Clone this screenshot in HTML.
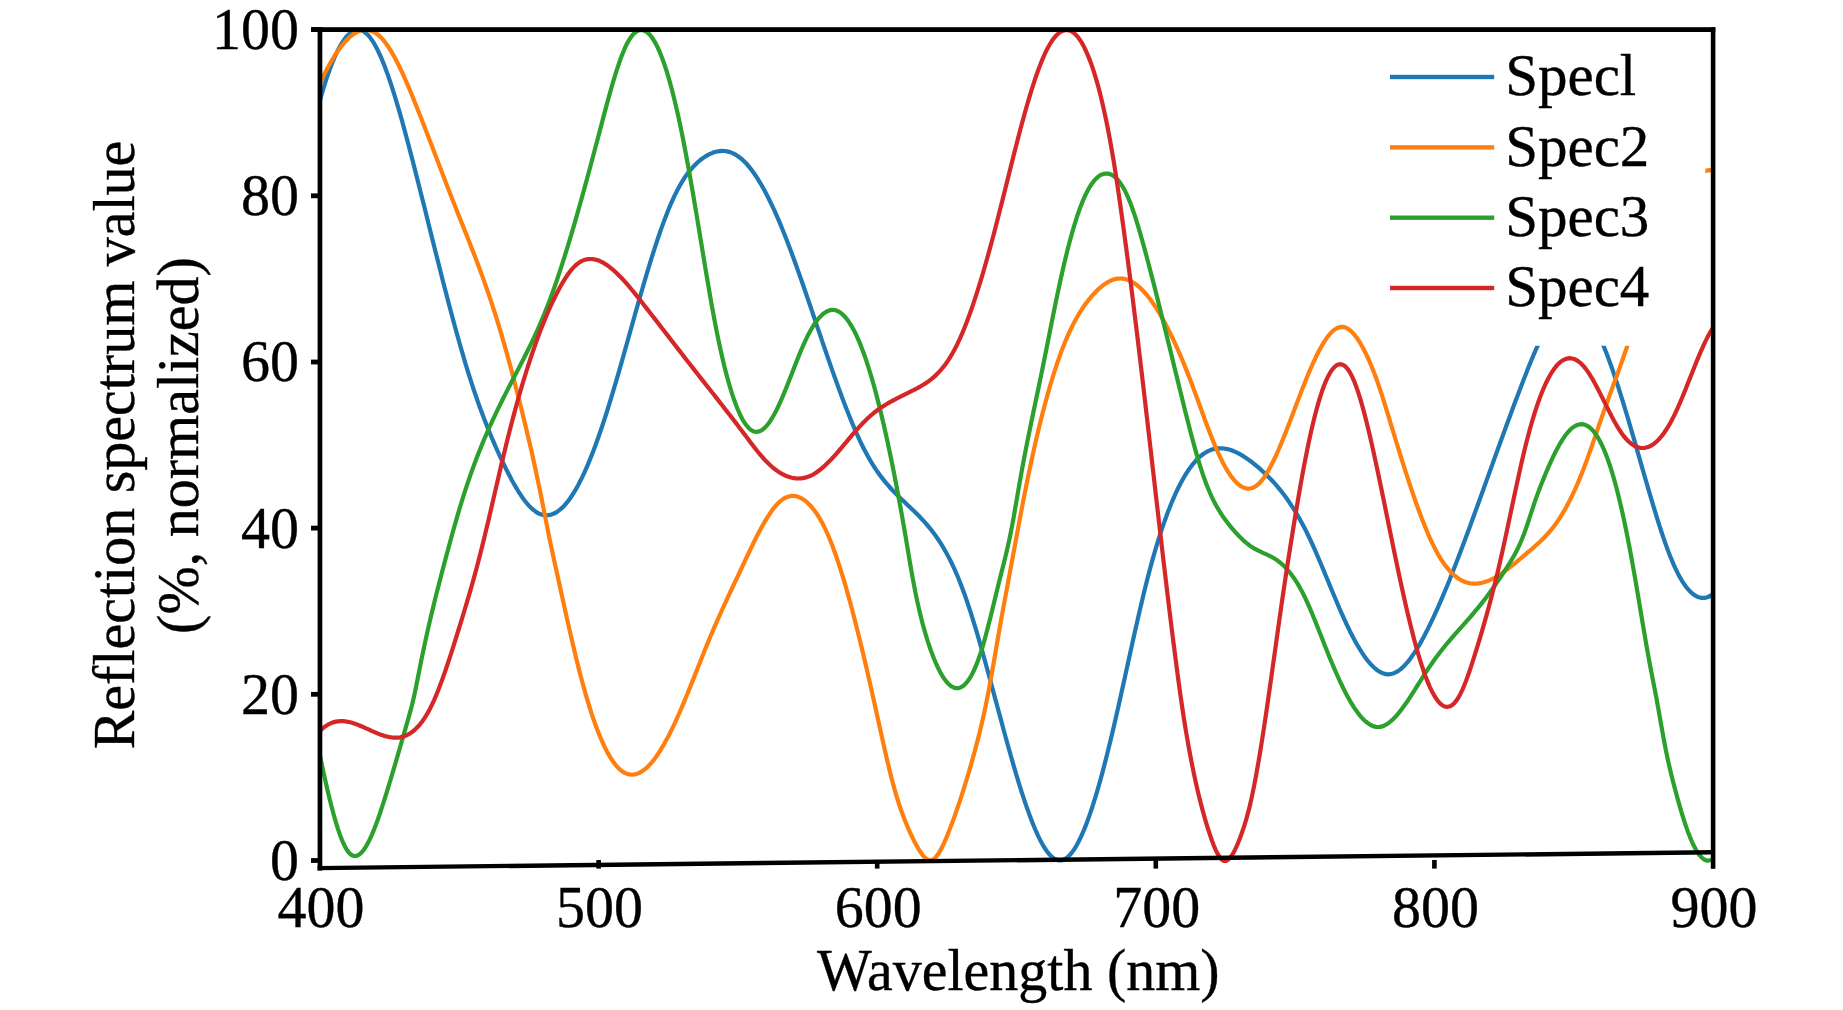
<!DOCTYPE html>
<html><head><meta charset="utf-8"><title>Reflection spectra</title>
<style>
html,body{margin:0;padding:0;background:#fff;}
body{width:1843px;height:1010px;overflow:hidden;}
svg{display:block;}
text{font-family:"Liberation Serif",serif;font-size:58px;fill:#000;stroke:#000;stroke-width:0.35px;}
</style></head><body>
<svg width="1843" height="1010" viewBox="0 0 1843 1010">
<rect x="0" y="0" width="1843" height="1010" fill="#fff"/>
<defs><clipPath id="plot"><rect x="320.0" y="27" width="1393.0" height="838"/></clipPath></defs>
<g clip-path="url(#plot)">
<path d="M320.0,100.2 322.0,93.2 324.0,86.6 326.0,80.2 328.0,74.3 330.0,68.7 332.0,63.5 334.0,58.6 336.0,54.1 338.0,49.9 340.0,46.2 342.0,42.8 344.0,39.8 346.0,37.2 348.0,35.0 350.0,33.2 352.0,31.7 354.0,30.7 356.0,30.1 358.0,29.9 360.0,30.1 362.0,30.7 364.0,31.7 366.0,33.2 368.0,35.1 370.0,37.4 372.0,40.2 374.0,43.3 376.0,46.9 378.0,50.8 380.0,55.1 382.0,59.7 384.0,64.6 386.0,69.9 388.0,75.4 390.0,81.2 392.0,87.3 394.0,93.6 396.0,100.1 398.0,106.8 400.0,113.7 402.0,120.8 404.0,128.1 406.0,135.5 408.0,143.0 410.0,150.6 412.0,158.3 414.0,166.1 416.0,173.9 418.0,181.8 420.0,189.7 422.0,197.7 424.0,205.6 426.0,213.6 428.0,221.7 430.0,229.7 432.0,237.7 434.0,245.7 436.0,253.7 438.0,261.6 440.0,269.5 442.0,277.4 444.0,285.2 446.0,292.9 448.0,300.6 450.0,308.2 452.0,315.7 454.0,323.1 456.0,330.5 458.0,337.7 460.0,344.8 462.0,351.7 464.0,358.6 466.0,365.3 468.0,371.8 470.0,378.2 472.0,384.4 474.0,390.5 476.0,396.3 478.0,402.1 480.0,407.7 482.0,413.1 484.0,418.4 486.0,423.6 488.0,428.6 490.0,433.5 492.0,438.3 494.0,442.9 496.0,447.5 498.0,452.0 500.0,456.3 502.0,460.6 504.0,464.7 506.0,468.8 508.0,472.8 510.0,476.6 512.0,480.4 514.0,484.0 516.0,487.4 518.0,490.8 520.0,493.9 522.0,496.9 524.0,499.7 526.0,502.2 528.0,504.6 530.0,506.8 532.0,508.7 534.0,510.4 536.0,511.9 538.0,513.1 540.0,514.0 542.0,514.7 544.0,515.1 546.0,515.3 548.0,515.2 550.0,514.9 552.0,514.3 554.0,513.5 556.0,512.5 558.0,511.2 560.0,509.6 562.0,507.9 564.0,505.9 566.0,503.6 568.0,501.2 570.0,498.5 572.0,495.5 574.0,492.4 576.0,489.0 578.0,485.4 580.0,481.6 582.0,477.6 584.0,473.4 586.0,468.9 588.0,464.3 590.0,459.4 592.0,454.4 594.0,449.2 596.0,443.8 598.0,438.3 600.0,432.5 602.0,426.7 604.0,420.6 606.0,414.5 608.0,408.1 610.0,401.7 612.0,395.1 614.0,388.4 616.0,381.6 618.0,374.8 620.0,367.8 622.0,360.8 624.0,353.7 626.0,346.6 628.0,339.5 630.0,332.3 632.0,325.2 634.0,318.0 636.0,310.9 638.0,303.9 640.0,296.9 642.0,290.0 644.0,283.1 646.0,276.3 648.0,269.6 650.0,263.1 652.0,256.6 654.0,250.3 656.0,244.2 658.0,238.1 660.0,232.3 662.0,226.6 664.0,221.1 666.0,215.9 668.0,210.8 670.0,205.9 672.0,201.3 674.0,196.9 676.0,192.8 678.0,188.9 680.0,185.3 682.0,181.9 684.0,178.7 686.0,175.7 688.0,173.0 690.0,170.4 692.0,168.1 694.0,165.9 696.0,163.9 698.0,162.0 700.0,160.3 702.0,158.8 704.0,157.4 706.0,156.1 708.0,154.9 710.0,153.9 712.0,153.1 714.0,152.3 716.0,151.8 718.0,151.3 720.0,151.1 722.0,150.9 724.0,151.0 726.0,151.2 728.0,151.6 730.0,152.1 732.0,152.9 734.0,153.8 736.0,154.9 738.0,156.2 740.0,157.7 742.0,159.3 744.0,161.2 746.0,163.2 748.0,165.5 750.0,167.9 752.0,170.5 754.0,173.3 756.0,176.2 758.0,179.3 760.0,182.6 762.0,186.0 764.0,189.6 766.0,193.3 768.0,197.2 770.0,201.2 772.0,205.4 774.0,209.7 776.0,214.2 778.0,218.7 780.0,223.4 782.0,228.3 784.0,233.2 786.0,238.3 788.0,243.5 790.0,248.7 792.0,254.1 794.0,259.5 796.0,265.0 798.0,270.6 800.0,276.3 802.0,282.0 804.0,287.7 806.0,293.5 808.0,299.4 810.0,305.2 812.0,311.1 814.0,317.0 816.0,322.9 818.0,328.8 820.0,334.7 822.0,340.6 824.0,346.5 826.0,352.3 828.0,358.1 830.0,363.9 832.0,369.6 834.0,375.2 836.0,380.8 838.0,386.4 840.0,391.8 842.0,397.2 844.0,402.5 846.0,407.7 848.0,412.8 850.0,417.8 852.0,422.6 854.0,427.4 856.0,432.0 858.0,436.4 860.0,440.8 862.0,445.0 864.0,449.0 866.0,452.8 868.0,456.5 870.0,460.0 872.0,463.4 874.0,466.5 876.0,469.6 878.0,472.5 880.0,475.3 882.0,477.9 884.0,480.4 886.0,482.9 888.0,485.2 890.0,487.5 892.0,489.7 894.0,491.8 896.0,493.8 898.0,495.8 900.0,497.8 902.0,499.7 904.0,501.6 906.0,503.5 908.0,505.4 910.0,507.3 912.0,509.2 914.0,511.1 916.0,513.1 918.0,515.1 920.0,517.1 922.0,519.3 924.0,521.4 926.0,523.7 928.0,526.0 930.0,528.4 932.0,530.9 934.0,533.6 936.0,536.3 938.0,539.2 940.0,542.2 942.0,545.4 944.0,548.8 946.0,552.3 948.0,555.9 950.0,559.8 952.0,563.8 954.0,568.1 956.0,572.6 958.0,577.3 960.0,582.2 962.0,587.4 964.0,592.8 966.0,598.4 968.0,604.3 970.0,610.4 972.0,616.6 974.0,623.1 976.0,629.7 978.0,636.4 980.0,643.3 982.0,650.4 984.0,657.5 986.0,664.7 988.0,672.0 990.0,679.3 992.0,686.7 994.0,694.1 996.0,701.6 998.0,709.0 1000.0,716.4 1002.0,723.8 1004.0,731.2 1006.0,738.5 1008.0,745.7 1010.0,752.8 1012.0,759.9 1014.0,766.8 1016.0,773.6 1018.0,780.3 1020.0,786.8 1022.0,793.1 1024.0,799.2 1026.0,805.1 1028.0,810.8 1030.0,816.3 1032.0,821.5 1034.0,826.5 1036.0,831.2 1038.0,835.6 1040.0,839.7 1042.0,843.5 1044.0,846.9 1046.0,850.0 1048.0,852.7 1050.0,855.0 1052.0,857.0 1054.0,858.5 1056.0,859.6 1058.0,860.3 1060.0,860.5 1062.0,860.3 1064.0,859.6 1066.0,858.4 1068.0,856.8 1070.0,854.8 1072.0,852.4 1074.0,849.6 1076.0,846.4 1078.0,842.8 1080.0,838.8 1082.0,834.5 1084.0,829.9 1086.0,824.9 1088.0,819.5 1090.0,813.9 1092.0,808.0 1094.0,801.7 1096.0,795.2 1098.0,788.4 1100.0,781.4 1102.0,774.1 1104.0,766.5 1106.0,758.8 1108.0,750.8 1110.0,742.6 1112.0,734.3 1114.0,725.7 1116.0,717.0 1118.0,708.2 1120.0,699.3 1122.0,690.3 1124.0,681.2 1126.0,672.1 1128.0,663.0 1130.0,653.9 1132.0,644.8 1134.0,635.8 1136.0,626.9 1138.0,618.1 1140.0,609.4 1142.0,600.9 1144.0,592.5 1146.0,584.4 1148.0,576.6 1150.0,569.0 1152.0,561.6 1154.0,554.5 1156.0,547.7 1158.0,541.1 1160.0,534.8 1162.0,528.7 1164.0,522.8 1166.0,517.2 1168.0,511.8 1170.0,506.7 1172.0,501.8 1174.0,497.1 1176.0,492.7 1178.0,488.5 1180.0,484.5 1182.0,480.8 1184.0,477.2 1186.0,473.9 1188.0,470.8 1190.0,467.9 1192.0,465.2 1194.0,462.8 1196.0,460.5 1198.0,458.5 1200.0,456.6 1202.0,455.0 1204.0,453.5 1206.0,452.3 1208.0,451.2 1210.0,450.3 1212.0,449.6 1214.0,449.0 1216.0,448.6 1218.0,448.4 1220.0,448.3 1222.0,448.3 1224.0,448.5 1226.0,448.8 1228.0,449.2 1230.0,449.8 1232.0,450.5 1234.0,451.3 1236.0,452.2 1238.0,453.1 1240.0,454.2 1242.0,455.4 1244.0,456.6 1246.0,458.0 1248.0,459.4 1250.0,460.8 1252.0,462.3 1254.0,463.9 1256.0,465.5 1258.0,467.2 1260.0,468.9 1262.0,470.7 1264.0,472.5 1266.0,474.4 1268.0,476.4 1270.0,478.4 1272.0,480.5 1274.0,482.7 1276.0,484.9 1278.0,487.3 1280.0,489.7 1282.0,492.2 1284.0,494.8 1286.0,497.5 1288.0,500.3 1290.0,503.3 1292.0,506.3 1294.0,509.4 1296.0,512.7 1298.0,516.1 1300.0,519.6 1302.0,523.2 1304.0,527.0 1306.0,530.9 1308.0,535.0 1310.0,539.2 1312.0,543.5 1314.0,547.9 1316.0,552.5 1318.0,557.1 1320.0,561.8 1322.0,566.5 1324.0,571.4 1326.0,576.2 1328.0,581.0 1330.0,585.9 1332.0,590.7 1334.0,595.5 1336.0,600.3 1338.0,605.0 1340.0,609.7 1342.0,614.2 1344.0,618.7 1346.0,623.0 1348.0,627.2 1350.0,631.3 1352.0,635.3 1354.0,639.1 1356.0,642.7 1358.0,646.2 1360.0,649.5 1362.0,652.7 1364.0,655.7 1366.0,658.4 1368.0,661.0 1370.0,663.4 1372.0,665.6 1374.0,667.5 1376.0,669.2 1378.0,670.7 1380.0,671.9 1382.0,672.9 1384.0,673.6 1386.0,674.1 1388.0,674.3 1390.0,674.2 1392.0,673.8 1394.0,673.2 1396.0,672.2 1398.0,671.1 1400.0,669.6 1402.0,668.0 1404.0,666.1 1406.0,663.9 1408.0,661.6 1410.0,659.1 1412.0,656.3 1414.0,653.4 1416.0,650.3 1418.0,647.1 1420.0,643.6 1422.0,640.1 1424.0,636.4 1426.0,632.5 1428.0,628.6 1430.0,624.5 1432.0,620.4 1434.0,616.1 1436.0,611.7 1438.0,607.3 1440.0,602.7 1442.0,598.1 1444.0,593.3 1446.0,588.5 1448.0,583.7 1450.0,578.7 1452.0,573.7 1454.0,568.6 1456.0,563.5 1458.0,558.3 1460.0,553.1 1462.0,547.8 1464.0,542.5 1466.0,537.1 1468.0,531.7 1470.0,526.3 1472.0,520.8 1474.0,515.3 1476.0,509.8 1478.0,504.3 1480.0,498.7 1482.0,493.2 1484.0,487.6 1486.0,482.1 1488.0,476.5 1490.0,470.9 1492.0,465.4 1494.0,459.8 1496.0,454.3 1498.0,448.8 1500.0,443.2 1502.0,437.7 1504.0,432.2 1506.0,426.8 1508.0,421.3 1510.0,415.9 1512.0,410.5 1514.0,405.1 1516.0,399.8 1518.0,394.5 1520.0,389.2 1522.0,384.0 1524.0,378.8 1526.0,373.7 1528.0,368.6 1530.0,363.6 1532.0,358.8 1534.0,354.0 1536.0,349.4 1538.0,344.9 1540.0,340.6 1542.0,336.5 1544.0,332.5 1546.0,328.8 1548.0,325.3 1550.0,322.0 1552.0,319.0 1554.0,316.3 1556.0,313.8 1558.0,311.6 1560.0,309.8 1562.0,308.2 1564.0,307.0 1566.0,306.0 1568.0,305.3 1570.0,305.0 1572.0,305.0 1574.0,305.2 1576.0,305.8 1578.0,306.7 1580.0,308.0 1582.0,309.5 1584.0,311.4 1586.0,313.6 1588.0,316.1 1590.0,318.9 1592.0,322.1 1594.0,325.5 1596.0,329.3 1598.0,333.3 1600.0,337.6 1602.0,342.2 1604.0,347.0 1606.0,352.0 1608.0,357.2 1610.0,362.7 1612.0,368.3 1614.0,374.1 1616.0,380.1 1618.0,386.2 1620.0,392.5 1622.0,398.9 1624.0,405.4 1626.0,412.0 1628.0,418.7 1630.0,425.5 1632.0,432.3 1634.0,439.2 1636.0,446.2 1638.0,453.2 1640.0,460.1 1642.0,467.1 1644.0,474.1 1646.0,481.0 1648.0,487.9 1650.0,494.7 1652.0,501.4 1654.0,508.1 1656.0,514.7 1658.0,521.1 1660.0,527.4 1662.0,533.5 1664.0,539.4 1666.0,545.1 1668.0,550.6 1670.0,555.8 1672.0,560.7 1674.0,565.3 1676.0,569.6 1678.0,573.7 1680.0,577.4 1682.0,580.8 1684.0,583.9 1686.0,586.7 1688.0,589.2 1690.0,591.4 1692.0,593.2 1694.0,594.8 1696.0,596.1 1698.0,597.0 1700.0,597.6 1702.0,597.9 1704.0,597.9 1706.0,597.6 1708.0,597.0 1710.0,596.0 1712.0,594.7 1713.0,594.0" fill="none" stroke="#1f77b4" stroke-width="4.2" stroke-linejoin="round"/>
<path d="M320.0,83.1 322.0,78.9 324.0,74.9 326.0,71.0 328.0,67.2 330.0,63.6 332.0,60.2 334.0,56.9 336.0,53.7 338.0,50.8 340.0,48.0 342.0,45.4 344.0,43.0 346.0,40.7 348.0,38.7 350.0,36.8 352.0,35.2 354.0,33.8 356.0,32.6 358.0,31.6 360.0,30.8 362.0,30.2 364.0,29.9 366.0,29.9 368.0,30.1 370.0,30.5 372.0,31.2 374.0,32.1 376.0,33.3 378.0,34.8 380.0,36.6 382.0,38.6 384.0,40.9 386.0,43.5 388.0,46.3 390.0,49.4 392.0,52.7 394.0,56.3 396.0,60.0 398.0,63.9 400.0,68.0 402.0,72.2 404.0,76.6 406.0,81.1 408.0,85.7 410.0,90.5 412.0,95.3 414.0,100.2 416.0,105.2 418.0,110.2 420.0,115.3 422.0,120.4 424.0,125.5 426.0,130.7 428.0,135.9 430.0,141.1 432.0,146.3 434.0,151.6 436.0,156.8 438.0,162.1 440.0,167.3 442.0,172.6 444.0,177.8 446.0,183.0 448.0,188.2 450.0,193.3 452.0,198.4 454.0,203.5 456.0,208.6 458.0,213.6 460.0,218.6 462.0,223.6 464.0,228.6 466.0,233.6 468.0,238.7 470.0,243.8 472.0,248.9 474.0,254.1 476.0,259.3 478.0,264.6 480.0,269.9 482.0,275.4 484.0,280.9 486.0,286.6 488.0,292.3 490.0,298.2 492.0,304.2 494.0,310.3 496.0,316.6 498.0,323.0 500.0,329.6 502.0,336.3 504.0,343.3 506.0,350.3 508.0,357.5 510.0,364.9 512.0,372.4 514.0,380.0 516.0,387.7 518.0,395.6 520.0,403.5 522.0,411.5 524.0,419.6 526.0,427.9 528.0,436.3 530.0,444.8 532.0,453.5 534.0,462.5 536.0,471.7 538.0,481.1 540.0,490.7 542.0,500.7 544.0,510.9 546.0,521.1 548.0,531.2 550.0,541.0 552.0,550.4 554.0,559.7 556.0,568.8 558.0,577.9 560.0,587.0 562.0,596.1 564.0,605.2 566.0,614.2 568.0,623.1 570.0,631.9 572.0,640.6 574.0,649.1 576.0,657.4 578.0,665.5 580.0,673.4 582.0,681.0 584.0,688.3 586.0,695.4 588.0,702.1 590.0,708.6 592.0,714.8 594.0,720.7 596.0,726.2 598.0,731.5 600.0,736.5 602.0,741.2 604.0,745.6 606.0,749.7 608.0,753.4 610.0,756.9 612.0,760.0 614.0,762.9 616.0,765.4 618.0,767.7 620.0,769.6 622.0,771.2 624.0,772.5 626.0,773.4 628.0,774.1 630.0,774.5 632.0,774.7 634.0,774.5 636.0,774.1 638.0,773.4 640.0,772.5 642.0,771.3 644.0,769.9 646.0,768.3 648.0,766.4 650.0,764.3 652.0,762.1 654.0,759.6 656.0,756.9 658.0,754.0 660.0,750.9 662.0,747.6 664.0,744.2 666.0,740.6 668.0,736.9 670.0,733.0 672.0,728.9 674.0,724.8 676.0,720.5 678.0,716.0 680.0,711.5 682.0,706.8 684.0,702.1 686.0,697.3 688.0,692.4 690.0,687.4 692.0,682.4 694.0,677.4 696.0,672.4 698.0,667.3 700.0,662.3 702.0,657.2 704.0,652.2 706.0,647.3 708.0,642.4 710.0,637.5 712.0,632.8 714.0,628.1 716.0,623.5 718.0,618.9 720.0,614.5 722.0,610.0 724.0,605.7 726.0,601.3 728.0,597.0 730.0,592.7 732.0,588.5 734.0,584.2 736.0,580.0 738.0,575.8 740.0,571.5 742.0,567.2 744.0,563.0 746.0,558.7 748.0,554.5 750.0,550.2 752.0,546.1 754.0,542.0 756.0,537.9 758.0,534.0 760.0,530.2 762.0,526.5 764.0,523.0 766.0,519.6 768.0,516.3 770.0,513.3 772.0,510.5 774.0,507.8 776.0,505.5 778.0,503.3 780.0,501.4 782.0,499.9 784.0,498.5 786.0,497.5 788.0,496.7 790.0,496.2 792.0,495.9 794.0,496.0 796.0,496.2 798.0,496.8 800.0,497.6 802.0,498.6 804.0,499.9 806.0,501.4 808.0,503.2 810.0,505.2 812.0,507.5 814.0,510.0 816.0,512.7 818.0,515.7 820.0,519.0 822.0,522.6 824.0,526.4 826.0,530.6 828.0,535.0 830.0,539.8 832.0,544.8 834.0,550.2 836.0,555.8 838.0,561.6 840.0,567.7 842.0,574.1 844.0,580.7 846.0,587.5 848.0,594.6 850.0,601.8 852.0,609.3 854.0,616.9 856.0,624.7 858.0,632.7 860.0,640.8 862.0,649.0 864.0,657.4 866.0,666.0 868.0,674.6 870.0,683.4 872.0,692.2 874.0,701.2 876.0,710.2 878.0,719.2 880.0,728.4 882.0,737.4 884.0,746.4 886.0,755.2 888.0,763.8 890.0,772.1 892.0,780.0 894.0,787.4 896.0,794.4 898.0,800.9 900.0,807.0 902.0,812.7 904.0,818.0 906.0,823.0 908.0,827.8 910.0,832.3 912.0,836.6 914.0,840.7 916.0,844.5 918.0,848.0 920.0,851.3 922.0,854.2 924.0,856.7 926.0,858.6 928.0,859.9 930.0,860.4 932.0,860.0 934.0,858.9 936.0,856.9 938.0,854.3 940.0,851.1 942.0,847.3 944.0,843.2 946.0,838.6 948.0,833.7 950.0,828.6 952.0,823.3 954.0,817.9 956.0,812.3 958.0,806.5 960.0,800.6 962.0,794.4 964.0,788.1 966.0,781.6 968.0,775.0 970.0,768.1 972.0,761.1 974.0,753.9 976.0,746.5 978.0,738.9 980.0,731.0 982.0,722.6 984.0,713.7 986.0,704.3 988.0,694.2 990.0,683.5 992.0,672.3 994.0,660.8 996.0,649.2 998.0,637.6 1000.0,626.1 1002.0,615.0 1004.0,604.1 1006.0,593.4 1008.0,582.7 1010.0,571.9 1012.0,561.1 1014.0,550.2 1016.0,539.4 1018.0,528.6 1020.0,517.9 1022.0,507.3 1024.0,497.0 1026.0,486.9 1028.0,477.0 1030.0,467.5 1032.0,458.2 1034.0,449.1 1036.0,440.3 1038.0,431.8 1040.0,423.6 1042.0,415.6 1044.0,407.8 1046.0,400.3 1048.0,393.1 1050.0,386.2 1052.0,379.5 1054.0,373.0 1056.0,366.8 1058.0,360.9 1060.0,355.3 1062.0,349.8 1064.0,344.7 1066.0,339.8 1068.0,335.2 1070.0,330.8 1072.0,326.6 1074.0,322.7 1076.0,319.0 1078.0,315.5 1080.0,312.2 1082.0,309.1 1084.0,306.1 1086.0,303.3 1088.0,300.7 1090.0,298.3 1092.0,295.9 1094.0,293.7 1096.0,291.6 1098.0,289.6 1100.0,287.8 1102.0,286.2 1104.0,284.6 1106.0,283.3 1108.0,282.1 1110.0,281.0 1112.0,280.1 1114.0,279.4 1116.0,278.9 1118.0,278.6 1120.0,278.5 1122.0,278.5 1124.0,278.8 1126.0,279.2 1128.0,279.9 1130.0,280.7 1132.0,281.8 1134.0,283.0 1136.0,284.4 1138.0,286.0 1140.0,287.7 1142.0,289.7 1144.0,291.8 1146.0,294.0 1148.0,296.5 1150.0,299.0 1152.0,301.8 1154.0,304.7 1156.0,307.7 1158.0,310.9 1160.0,314.2 1162.0,317.7 1164.0,321.3 1166.0,325.0 1168.0,328.9 1170.0,332.9 1172.0,337.0 1174.0,341.2 1176.0,345.6 1178.0,350.0 1180.0,354.6 1182.0,359.3 1184.0,364.1 1186.0,369.1 1188.0,374.1 1190.0,379.3 1192.0,384.5 1194.0,389.9 1196.0,395.3 1198.0,400.8 1200.0,406.3 1202.0,411.8 1204.0,417.2 1206.0,422.7 1208.0,428.0 1210.0,433.2 1212.0,438.3 1214.0,443.2 1216.0,448.0 1218.0,452.5 1220.0,456.8 1222.0,460.9 1224.0,464.7 1226.0,468.3 1228.0,471.6 1230.0,474.7 1232.0,477.4 1234.0,479.9 1236.0,482.1 1238.0,484.0 1240.0,485.6 1242.0,486.8 1244.0,487.7 1246.0,488.3 1248.0,488.6 1250.0,488.5 1252.0,488.0 1254.0,487.2 1256.0,486.0 1258.0,484.4 1260.0,482.5 1262.0,480.2 1264.0,477.5 1266.0,474.5 1268.0,471.2 1270.0,467.6 1272.0,463.8 1274.0,459.8 1276.0,455.5 1278.0,451.0 1280.0,446.4 1282.0,441.6 1284.0,436.6 1286.0,431.6 1288.0,426.4 1290.0,421.2 1292.0,416.0 1294.0,410.7 1296.0,405.4 1298.0,400.2 1300.0,394.9 1302.0,389.8 1304.0,384.7 1306.0,379.7 1308.0,374.8 1310.0,370.1 1312.0,365.5 1314.0,361.1 1316.0,356.8 1318.0,352.8 1320.0,349.0 1322.0,345.4 1324.0,342.1 1326.0,339.1 1328.0,336.3 1330.0,333.9 1332.0,331.8 1334.0,330.0 1336.0,328.7 1338.0,327.7 1340.0,327.1 1342.0,326.9 1344.0,327.1 1346.0,327.8 1348.0,328.8 1350.0,330.3 1352.0,332.1 1354.0,334.2 1356.0,336.7 1358.0,339.6 1360.0,342.7 1362.0,346.2 1364.0,349.9 1366.0,353.9 1368.0,358.2 1370.0,362.7 1372.0,367.5 1374.0,372.5 1376.0,377.8 1378.0,383.4 1380.0,389.3 1382.0,395.4 1384.0,401.7 1386.0,408.1 1388.0,414.7 1390.0,421.3 1392.0,427.9 1394.0,434.4 1396.0,441.0 1398.0,447.5 1400.0,453.9 1402.0,460.3 1404.0,466.7 1406.0,472.9 1408.0,479.1 1410.0,485.2 1412.0,491.1 1414.0,497.0 1416.0,502.7 1418.0,508.3 1420.0,513.7 1422.0,519.0 1424.0,524.1 1426.0,529.0 1428.0,533.8 1430.0,538.3 1432.0,542.6 1434.0,546.7 1436.0,550.6 1438.0,554.2 1440.0,557.6 1442.0,560.8 1444.0,563.7 1446.0,566.4 1448.0,568.9 1450.0,571.2 1452.0,573.2 1454.0,575.1 1456.0,576.7 1458.0,578.2 1460.0,579.5 1462.0,580.6 1464.0,581.5 1466.0,582.2 1468.0,582.8 1470.0,583.3 1472.0,583.5 1474.0,583.7 1476.0,583.6 1478.0,583.5 1480.0,583.2 1482.0,582.8 1484.0,582.3 1486.0,581.6 1488.0,580.9 1490.0,580.1 1492.0,579.1 1494.0,578.1 1496.0,577.0 1498.0,575.8 1500.0,574.5 1502.0,573.2 1504.0,571.8 1506.0,570.3 1508.0,568.8 1510.0,567.2 1512.0,565.6 1514.0,564.0 1516.0,562.4 1518.0,560.7 1520.0,559.0 1522.0,557.3 1524.0,555.6 1526.0,553.9 1528.0,552.2 1530.0,550.5 1532.0,548.8 1534.0,547.1 1536.0,545.3 1538.0,543.5 1540.0,541.7 1542.0,539.8 1544.0,537.8 1546.0,535.7 1548.0,533.5 1550.0,531.2 1552.0,528.8 1554.0,526.2 1556.0,523.5 1558.0,520.6 1560.0,517.6 1562.0,514.4 1564.0,511.0 1566.0,507.5 1568.0,503.8 1570.0,500.0 1572.0,495.9 1574.0,491.7 1576.0,487.3 1578.0,482.7 1580.0,477.9 1582.0,472.9 1584.0,467.7 1586.0,462.4 1588.0,456.9 1590.0,451.3 1592.0,445.6 1594.0,439.9 1596.0,434.1 1598.0,428.2 1600.0,422.4 1602.0,416.6 1604.0,410.9 1606.0,405.2 1608.0,399.7 1610.0,394.2 1612.0,388.8 1614.0,383.3 1616.0,377.9 1618.0,372.5 1620.0,366.9 1622.0,361.3 1624.0,355.5 1626.0,349.7 1628.0,343.8 1630.0,337.9 1632.0,331.8 1634.0,325.8 1636.0,319.7 1638.0,313.6 1640.0,307.6 1642.0,301.5 1644.0,295.4 1646.0,289.4 1648.0,283.3 1650.0,277.4 1652.0,271.5 1654.0,265.7 1656.0,259.9 1658.0,254.3 1660.0,248.8 1662.0,243.3 1664.0,238.0 1666.0,232.8 1668.0,227.8 1670.0,222.9 1672.0,218.2 1674.0,213.6 1676.0,209.2 1678.0,205.0 1680.0,201.0 1682.0,197.2 1684.0,193.6 1686.0,190.2 1688.0,187.1 1690.0,184.2 1692.0,181.6 1694.0,179.2 1696.0,177.1 1698.0,175.3 1700.0,173.7 1702.0,172.4 1704.0,171.4 1706.0,170.7 1708.0,170.3 1710.0,170.2 1712.0,170.4 1713.0,170.6" fill="none" stroke="#ff7f0e" stroke-width="4.2" stroke-linejoin="round"/>
<path d="M320.0,756.0 322.0,765.4 324.0,774.6 326.0,783.5 328.0,792.2 330.0,800.4 332.0,808.3 334.0,815.7 336.0,822.7 338.0,829.1 340.0,834.9 342.0,840.1 344.0,844.6 346.0,848.4 348.0,851.5 350.0,853.8 352.0,855.3 354.0,856.0 356.0,856.0 358.0,855.3 360.0,853.9 362.0,852.0 364.0,849.5 366.0,846.4 368.0,842.9 370.0,838.9 372.0,834.4 374.0,829.6 376.0,824.4 378.0,819.0 380.0,813.2 382.0,807.2 384.0,801.0 386.0,794.6 388.0,788.1 390.0,781.5 392.0,774.8 394.0,768.1 396.0,761.3 398.0,754.4 400.0,747.5 402.0,740.6 404.0,733.6 406.0,726.7 408.0,719.7 410.0,712.7 412.0,705.1 414.0,696.6 416.0,687.1 418.0,677.0 420.0,666.8 422.0,656.9 424.0,647.4 426.0,638.1 428.0,629.1 430.0,620.4 432.0,611.9 434.0,603.7 436.0,595.6 438.0,587.7 440.0,579.9 442.0,572.2 444.0,564.6 446.0,557.1 448.0,549.7 450.0,542.3 452.0,535.0 454.0,527.8 456.0,520.8 458.0,513.9 460.0,507.2 462.0,500.6 464.0,494.2 466.0,488.1 468.0,482.1 470.0,476.3 472.0,470.6 474.0,465.1 476.0,459.8 478.0,454.6 480.0,449.5 482.0,444.6 484.0,439.8 486.0,435.1 488.0,430.5 490.0,426.0 492.0,421.6 494.0,417.3 496.0,413.1 498.0,408.9 500.0,404.8 502.0,400.8 504.0,396.8 506.0,392.9 508.0,388.9 510.0,385.1 512.0,381.2 514.0,377.3 516.0,373.5 518.0,369.6 520.0,365.8 522.0,361.9 524.0,358.0 526.0,354.0 528.0,350.0 530.0,345.9 532.0,341.8 534.0,337.6 536.0,333.2 538.0,328.8 540.0,324.3 542.0,319.6 544.0,314.8 546.0,309.9 548.0,304.8 550.0,299.5 552.0,294.1 554.0,288.5 556.0,282.7 558.0,276.9 560.0,270.8 562.0,264.7 564.0,258.4 566.0,252.0 568.0,245.5 570.0,238.9 572.0,232.2 574.0,225.3 576.0,218.4 578.0,211.4 580.0,204.3 582.0,197.1 584.0,189.9 586.0,182.6 588.0,175.2 590.0,167.8 592.0,160.3 594.0,152.8 596.0,145.2 598.0,137.7 600.0,130.1 602.0,122.5 604.0,114.9 606.0,107.4 608.0,100.0 610.0,92.8 612.0,85.7 614.0,78.9 616.0,72.4 618.0,66.3 620.0,60.5 622.0,55.1 624.0,50.2 626.0,45.7 628.0,41.8 630.0,38.5 632.0,35.7 634.0,33.5 636.0,31.8 638.0,30.7 640.0,30.1 642.0,30.0 644.0,30.5 646.0,31.5 648.0,33.0 650.0,35.0 652.0,37.5 654.0,40.6 656.0,44.1 658.0,48.1 660.0,52.7 662.0,57.7 664.0,63.2 666.0,69.2 668.0,75.6 670.0,82.6 672.0,90.0 674.0,97.9 676.0,106.2 678.0,114.9 680.0,124.2 682.0,133.8 684.0,144.0 686.0,154.5 688.0,165.3 690.0,176.5 692.0,187.9 694.0,199.6 696.0,211.5 698.0,223.5 700.0,235.6 702.0,247.7 704.0,259.8 706.0,271.9 708.0,283.7 710.0,295.3 712.0,306.6 714.0,317.5 716.0,327.9 718.0,337.8 720.0,347.3 722.0,356.2 724.0,364.7 726.0,372.7 728.0,380.1 730.0,387.1 732.0,393.6 734.0,399.6 736.0,405.0 738.0,410.0 740.0,414.5 742.0,418.5 744.0,421.9 746.0,424.8 748.0,427.3 750.0,429.2 752.0,430.6 754.0,431.5 756.0,431.9 758.0,431.7 760.0,431.1 762.0,430.0 764.0,428.4 766.0,426.5 768.0,424.1 770.0,421.4 772.0,418.2 774.0,414.8 776.0,411.1 778.0,407.0 780.0,402.7 782.0,398.2 784.0,393.4 786.0,388.5 788.0,383.5 790.0,378.3 792.0,373.2 794.0,368.0 796.0,362.9 798.0,357.9 800.0,352.9 802.0,348.2 804.0,343.6 806.0,339.3 808.0,335.2 810.0,331.5 812.0,328.0 814.0,324.7 816.0,321.8 818.0,319.2 820.0,316.9 822.0,314.9 824.0,313.2 826.0,311.9 828.0,310.9 830.0,310.2 832.0,309.9 834.0,310.0 836.0,310.4 838.0,311.2 840.0,312.4 842.0,313.9 844.0,315.8 846.0,318.0 848.0,320.6 850.0,323.6 852.0,326.9 854.0,330.5 856.0,334.5 858.0,338.9 860.0,343.6 862.0,348.7 864.0,354.1 866.0,359.8 868.0,365.9 870.0,372.3 872.0,379.0 874.0,386.0 876.0,393.4 878.0,401.1 880.0,409.1 882.0,417.4 884.0,425.9 886.0,434.8 888.0,444.0 890.0,453.5 892.0,463.2 894.0,473.2 896.0,483.5 898.0,494.0 900.0,504.8 902.0,515.9 904.0,527.3 906.0,538.9 908.0,550.9 910.0,562.8 912.0,574.4 914.0,585.2 916.0,595.3 918.0,604.6 920.0,613.3 922.0,621.3 924.0,628.8 926.0,635.7 928.0,642.1 930.0,648.0 932.0,653.5 934.0,658.7 936.0,663.4 938.0,667.8 940.0,671.7 942.0,675.3 944.0,678.4 946.0,681.1 948.0,683.4 950.0,685.3 952.0,686.7 954.0,687.6 956.0,688.1 958.0,688.1 960.0,687.7 962.0,686.7 964.0,685.3 966.0,683.3 968.0,680.8 970.0,677.9 972.0,674.3 974.0,670.3 976.0,665.7 978.0,660.5 980.0,654.8 982.0,648.6 984.0,641.8 986.0,634.5 988.0,626.9 990.0,619.0 992.0,610.9 994.0,602.7 996.0,594.5 998.0,586.3 1000.0,578.2 1002.0,570.3 1004.0,562.4 1006.0,554.3 1008.0,545.8 1010.0,536.5 1012.0,526.3 1014.0,515.3 1016.0,503.7 1018.0,492.0 1020.0,480.6 1022.0,469.5 1024.0,458.8 1026.0,448.4 1028.0,438.4 1030.0,428.5 1032.0,418.8 1034.0,409.2 1036.0,399.7 1038.0,390.2 1040.0,380.6 1042.0,370.9 1044.0,361.0 1046.0,351.1 1048.0,341.0 1050.0,331.0 1052.0,320.9 1054.0,311.0 1056.0,301.2 1058.0,291.6 1060.0,282.3 1062.0,273.3 1064.0,264.5 1066.0,256.2 1068.0,248.1 1070.0,240.5 1072.0,233.2 1074.0,226.3 1076.0,219.8 1078.0,213.7 1080.0,208.1 1082.0,202.9 1084.0,198.2 1086.0,193.9 1088.0,190.0 1090.0,186.5 1092.0,183.5 1094.0,180.9 1096.0,178.7 1098.0,176.9 1100.0,175.4 1102.0,174.4 1104.0,173.8 1106.0,173.5 1108.0,173.6 1110.0,174.1 1112.0,175.0 1114.0,176.3 1116.0,177.9 1118.0,180.1 1120.0,182.6 1122.0,185.6 1124.0,189.0 1126.0,192.9 1128.0,197.3 1130.0,202.1 1132.0,207.5 1134.0,213.2 1136.0,219.4 1138.0,225.9 1140.0,232.6 1142.0,239.7 1144.0,246.9 1146.0,254.3 1148.0,261.8 1150.0,269.5 1152.0,277.2 1154.0,284.9 1156.0,292.8 1158.0,300.7 1160.0,308.7 1162.0,316.7 1164.0,324.7 1166.0,332.8 1168.0,341.0 1170.0,349.1 1172.0,357.3 1174.0,365.5 1176.0,373.6 1178.0,381.8 1180.0,389.9 1182.0,398.1 1184.0,406.2 1186.0,414.2 1188.0,422.1 1190.0,429.9 1192.0,437.5 1194.0,444.9 1196.0,452.1 1198.0,459.0 1200.0,465.6 1202.0,471.9 1204.0,477.8 1206.0,483.2 1208.0,488.3 1210.0,493.0 1212.0,497.4 1214.0,501.5 1216.0,505.2 1218.0,508.7 1220.0,512.0 1222.0,515.1 1224.0,518.0 1226.0,520.7 1228.0,523.3 1230.0,525.9 1232.0,528.3 1234.0,530.6 1236.0,532.9 1238.0,535.0 1240.0,537.1 1242.0,539.0 1244.0,540.9 1246.0,542.6 1248.0,544.2 1250.0,545.7 1252.0,547.1 1254.0,548.3 1256.0,549.4 1258.0,550.5 1260.0,551.4 1262.0,552.4 1264.0,553.3 1266.0,554.2 1268.0,555.1 1270.0,556.1 1272.0,557.1 1274.0,558.3 1276.0,559.5 1278.0,560.9 1280.0,562.5 1282.0,564.2 1284.0,566.1 1286.0,568.1 1288.0,570.3 1290.0,572.8 1292.0,575.4 1294.0,578.2 1296.0,581.2 1298.0,584.4 1300.0,587.9 1302.0,591.6 1304.0,595.5 1306.0,599.7 1308.0,604.0 1310.0,608.6 1312.0,613.3 1314.0,618.2 1316.0,623.1 1318.0,628.2 1320.0,633.2 1322.0,638.3 1324.0,643.4 1326.0,648.5 1328.0,653.5 1330.0,658.4 1332.0,663.2 1334.0,667.9 1336.0,672.5 1338.0,677.0 1340.0,681.3 1342.0,685.5 1344.0,689.6 1346.0,693.5 1348.0,697.2 1350.0,700.8 1352.0,704.1 1354.0,707.3 1356.0,710.3 1358.0,713.0 1360.0,715.6 1362.0,717.9 1364.0,720.0 1366.0,721.8 1368.0,723.3 1370.0,724.6 1372.0,725.7 1374.0,726.4 1376.0,726.9 1378.0,727.0 1380.0,726.9 1382.0,726.4 1384.0,725.7 1386.0,724.7 1388.0,723.4 1390.0,721.9 1392.0,720.2 1394.0,718.3 1396.0,716.2 1398.0,713.9 1400.0,711.4 1402.0,708.8 1404.0,706.1 1406.0,703.3 1408.0,700.3 1410.0,697.3 1412.0,694.2 1414.0,691.1 1416.0,687.9 1418.0,684.7 1420.0,681.5 1422.0,678.4 1424.0,675.2 1426.0,672.1 1428.0,669.0 1430.0,666.1 1432.0,663.2 1434.0,660.3 1436.0,657.6 1438.0,654.9 1440.0,652.3 1442.0,649.8 1444.0,647.3 1446.0,644.8 1448.0,642.4 1450.0,640.1 1452.0,637.7 1454.0,635.4 1456.0,633.1 1458.0,630.9 1460.0,628.6 1462.0,626.4 1464.0,624.1 1466.0,621.8 1468.0,619.6 1470.0,617.3 1472.0,615.0 1474.0,612.6 1476.0,610.2 1478.0,607.8 1480.0,605.4 1482.0,602.9 1484.0,600.3 1486.0,597.7 1488.0,595.0 1490.0,592.3 1492.0,589.5 1494.0,586.7 1496.0,583.8 1498.0,580.9 1500.0,578.0 1502.0,575.0 1504.0,571.9 1506.0,568.8 1508.0,565.7 1510.0,562.5 1512.0,559.1 1514.0,555.7 1516.0,551.9 1518.0,548.0 1520.0,543.7 1522.0,539.0 1524.0,534.0 1526.0,528.4 1528.0,522.5 1530.0,516.4 1532.0,510.3 1534.0,504.2 1536.0,498.4 1538.0,492.9 1540.0,487.6 1542.0,482.5 1544.0,477.6 1546.0,472.7 1548.0,468.1 1550.0,463.5 1552.0,459.2 1554.0,455.0 1556.0,451.0 1558.0,447.2 1560.0,443.6 1562.0,440.3 1564.0,437.3 1566.0,434.5 1568.0,432.1 1570.0,430.0 1572.0,428.1 1574.0,426.7 1576.0,425.5 1578.0,424.7 1580.0,424.3 1582.0,424.2 1584.0,424.5 1586.0,425.2 1588.0,426.3 1590.0,427.8 1592.0,429.6 1594.0,431.9 1596.0,434.6 1598.0,437.7 1600.0,441.3 1602.0,445.3 1604.0,449.7 1606.0,454.6 1608.0,460.0 1610.0,465.8 1612.0,472.1 1614.0,478.9 1616.0,486.2 1618.0,494.0 1620.0,502.2 1622.0,510.9 1624.0,520.0 1626.0,529.6 1628.0,539.6 1630.0,550.0 1632.0,560.8 1634.0,572.0 1636.0,583.5 1638.0,595.3 1640.0,607.3 1642.0,619.3 1644.0,631.1 1646.0,642.8 1648.0,654.1 1650.0,665.0 1652.0,675.4 1654.0,685.6 1656.0,696.0 1658.0,706.9 1660.0,718.2 1662.0,729.5 1664.0,740.5 1666.0,750.9 1668.0,760.4 1670.0,769.3 1672.0,777.5 1674.0,785.3 1676.0,792.8 1678.0,800.1 1680.0,807.1 1682.0,813.9 1684.0,820.3 1686.0,826.3 1688.0,831.9 1690.0,837.1 1692.0,841.8 1694.0,846.1 1696.0,849.8 1698.0,853.1 1700.0,855.7 1702.0,857.9 1704.0,859.4 1706.0,860.4 1708.0,860.7 1710.0,860.3 1712.0,859.3 1713.0,858.6" fill="none" stroke="#2ca02c" stroke-width="4.2" stroke-linejoin="round"/>
<path d="M320.0,730.9 322.0,729.0 324.0,727.3 326.0,725.9 328.0,724.6 330.0,723.6 332.0,722.8 334.0,722.1 336.0,721.6 338.0,721.3 340.0,721.1 342.0,721.1 344.0,721.2 346.0,721.5 348.0,721.8 350.0,722.2 352.0,722.8 354.0,723.4 356.0,724.1 358.0,724.9 360.0,725.7 362.0,726.5 364.0,727.4 366.0,728.3 368.0,729.2 370.0,730.1 372.0,731.1 374.0,731.9 376.0,732.8 378.0,733.6 380.0,734.4 382.0,735.1 384.0,735.8 386.0,736.4 388.0,736.8 390.0,737.2 392.0,737.5 394.0,737.7 396.0,737.7 398.0,737.6 400.0,737.3 402.0,736.9 404.0,736.3 406.0,735.5 408.0,734.6 410.0,733.4 412.0,732.0 414.0,730.5 416.0,728.6 418.0,726.6 420.0,724.3 422.0,721.7 424.0,718.9 426.0,715.8 428.0,712.4 430.0,708.7 432.0,704.6 434.0,700.3 436.0,695.7 438.0,690.8 440.0,685.6 442.0,680.2 444.0,674.6 446.0,668.8 448.0,662.9 450.0,656.8 452.0,650.6 454.0,644.3 456.0,637.9 458.0,631.5 460.0,625.1 462.0,618.6 464.0,612.0 466.0,605.4 468.0,598.6 470.0,591.8 472.0,584.7 474.0,577.6 476.0,570.2 478.0,562.7 480.0,555.0 482.0,547.0 484.0,538.9 486.0,530.6 488.0,522.2 490.0,513.7 492.0,505.1 494.0,496.4 496.0,487.8 498.0,479.2 500.0,470.6 502.0,462.1 504.0,453.7 506.0,445.4 508.0,437.3 510.0,429.4 512.0,421.7 514.0,414.1 516.0,406.7 518.0,399.5 520.0,392.5 522.0,385.7 524.0,379.0 526.0,372.5 528.0,366.2 530.0,360.0 532.0,354.0 534.0,348.2 536.0,342.5 538.0,337.0 540.0,331.7 542.0,326.6 544.0,321.6 546.0,316.7 548.0,312.0 550.0,307.5 552.0,303.2 554.0,299.0 556.0,294.9 558.0,291.0 560.0,287.3 562.0,283.7 564.0,280.4 566.0,277.2 568.0,274.3 570.0,271.5 572.0,269.1 574.0,266.9 576.0,265.0 578.0,263.4 580.0,262.0 582.0,260.9 584.0,260.1 586.0,259.5 588.0,259.1 590.0,259.0 592.0,259.0 594.0,259.3 596.0,259.7 598.0,260.3 600.0,261.1 602.0,262.1 604.0,263.2 606.0,264.5 608.0,265.8 610.0,267.4 612.0,269.0 614.0,270.7 616.0,272.5 618.0,274.4 620.0,276.4 622.0,278.5 624.0,280.7 626.0,282.9 628.0,285.2 630.0,287.6 632.0,290.0 634.0,292.4 636.0,294.9 638.0,297.4 640.0,299.9 642.0,302.5 644.0,305.0 646.0,307.6 648.0,310.1 650.0,312.7 652.0,315.3 654.0,317.9 656.0,320.4 658.0,323.0 660.0,325.6 662.0,328.2 664.0,330.8 666.0,333.4 668.0,335.9 670.0,338.5 672.0,341.1 674.0,343.7 676.0,346.3 678.0,348.9 680.0,351.4 682.0,354.0 684.0,356.6 686.0,359.2 688.0,361.7 690.0,364.3 692.0,366.9 694.0,369.4 696.0,372.0 698.0,374.5 700.0,377.1 702.0,379.6 704.0,382.1 706.0,384.7 708.0,387.2 710.0,389.8 712.0,392.3 714.0,394.8 716.0,397.4 718.0,399.9 720.0,402.5 722.0,405.0 724.0,407.6 726.0,410.2 728.0,412.7 730.0,415.3 732.0,417.9 734.0,420.5 736.0,423.1 738.0,425.7 740.0,428.4 742.0,431.0 744.0,433.7 746.0,436.3 748.0,439.0 750.0,441.7 752.0,444.3 754.0,446.9 756.0,449.5 758.0,452.0 760.0,454.4 762.0,456.7 764.0,459.0 766.0,461.1 768.0,463.1 770.0,465.0 772.0,466.8 774.0,468.5 776.0,470.0 778.0,471.4 780.0,472.7 782.0,473.9 784.0,474.9 786.0,475.9 788.0,476.6 790.0,477.3 792.0,477.8 794.0,478.2 796.0,478.4 798.0,478.5 800.0,478.4 802.0,478.3 804.0,477.9 806.0,477.4 808.0,476.8 810.0,476.0 812.0,475.1 814.0,474.0 816.0,472.7 818.0,471.3 820.0,469.8 822.0,468.2 824.0,466.4 826.0,464.5 828.0,462.6 830.0,460.6 832.0,458.5 834.0,456.3 836.0,454.1 838.0,451.8 840.0,449.5 842.0,447.1 844.0,444.7 846.0,442.3 848.0,440.0 850.0,437.6 852.0,435.2 854.0,432.9 856.0,430.6 858.0,428.3 860.0,426.1 862.0,424.0 864.0,421.9 866.0,419.9 868.0,418.0 870.0,416.2 872.0,414.5 874.0,412.8 876.0,411.3 878.0,409.8 880.0,408.4 882.0,407.0 884.0,405.7 886.0,404.5 888.0,403.3 890.0,402.1 892.0,401.0 894.0,400.0 896.0,398.9 898.0,397.9 900.0,396.9 902.0,395.9 904.0,394.9 906.0,393.9 908.0,392.9 910.0,391.9 912.0,390.9 914.0,389.9 916.0,388.8 918.0,387.8 920.0,386.7 922.0,385.5 924.0,384.3 926.0,383.0 928.0,381.6 930.0,380.2 932.0,378.6 934.0,376.9 936.0,375.1 938.0,373.1 940.0,370.9 942.0,368.6 944.0,366.2 946.0,363.5 948.0,360.6 950.0,357.5 952.0,354.2 954.0,350.6 956.0,346.8 958.0,342.7 960.0,338.4 962.0,333.8 964.0,329.0 966.0,324.0 968.0,318.7 970.0,313.3 972.0,307.6 974.0,301.7 976.0,295.6 978.0,289.3 980.0,282.9 982.0,276.3 984.0,269.5 986.0,262.5 988.0,255.4 990.0,248.1 992.0,240.7 994.0,233.2 996.0,225.5 998.0,217.7 1000.0,209.8 1002.0,201.9 1004.0,193.9 1006.0,185.9 1008.0,177.9 1010.0,169.9 1012.0,161.9 1014.0,154.0 1016.0,146.2 1018.0,138.4 1020.0,130.8 1022.0,123.3 1024.0,116.0 1026.0,108.8 1028.0,101.9 1030.0,95.1 1032.0,88.6 1034.0,82.4 1036.0,76.4 1038.0,70.7 1040.0,65.4 1042.0,60.4 1044.0,55.7 1046.0,51.4 1048.0,47.5 1050.0,44.0 1052.0,40.8 1054.0,38.1 1056.0,35.7 1058.0,33.8 1060.0,32.2 1062.0,31.1 1064.0,30.4 1066.0,30.1 1068.0,30.2 1070.0,30.7 1072.0,31.7 1074.0,33.1 1076.0,35.0 1078.0,37.2 1080.0,40.0 1082.0,43.2 1084.0,46.8 1086.0,51.0 1088.0,55.6 1090.0,60.6 1092.0,66.1 1094.0,72.2 1096.0,78.7 1098.0,85.7 1100.0,93.3 1102.0,101.4 1104.0,110.2 1106.0,119.5 1108.0,129.4 1110.0,140.0 1112.0,151.3 1114.0,163.2 1116.0,175.8 1118.0,189.1 1120.0,202.9 1122.0,217.1 1124.0,231.7 1126.0,246.6 1128.0,261.8 1130.0,277.3 1132.0,293.0 1134.0,309.1 1136.0,325.3 1138.0,341.8 1140.0,358.4 1142.0,375.3 1144.0,392.3 1146.0,409.4 1148.0,426.7 1150.0,444.0 1152.0,461.4 1154.0,478.8 1156.0,496.2 1158.0,513.5 1160.0,530.8 1162.0,548.0 1164.0,565.0 1166.0,581.8 1168.0,598.4 1170.0,614.8 1172.0,631.0 1174.0,646.8 1176.0,662.3 1178.0,677.4 1180.0,692.0 1182.0,705.9 1184.0,719.1 1186.0,731.5 1188.0,743.1 1190.0,754.0 1192.0,764.4 1194.0,774.2 1196.0,783.4 1198.0,792.1 1200.0,800.3 1202.0,808.1 1204.0,815.4 1206.0,822.3 1208.0,828.8 1210.0,834.9 1212.0,840.7 1214.0,846.0 1216.0,850.6 1218.0,854.5 1220.0,857.6 1222.0,859.8 1224.0,860.8 1226.0,860.8 1228.0,859.8 1230.0,857.9 1232.0,855.2 1234.0,851.8 1236.0,847.7 1238.0,843.1 1240.0,838.0 1242.0,832.5 1244.0,826.6 1246.0,820.1 1248.0,812.9 1250.0,804.9 1252.0,796.1 1254.0,786.4 1256.0,775.9 1258.0,764.7 1260.0,752.9 1262.0,740.4 1264.0,727.5 1266.0,714.1 1268.0,700.4 1270.0,686.4 1272.0,672.3 1274.0,658.0 1276.0,643.7 1278.0,629.5 1280.0,615.4 1282.0,601.4 1284.0,587.8 1286.0,574.4 1288.0,561.4 1290.0,548.6 1292.0,536.1 1294.0,523.7 1296.0,511.6 1298.0,499.8 1300.0,488.2 1302.0,477.0 1304.0,466.2 1306.0,455.8 1308.0,445.9 1310.0,436.5 1312.0,427.6 1314.0,419.2 1316.0,411.4 1318.0,404.1 1320.0,397.4 1322.0,391.3 1324.0,385.8 1326.0,380.9 1328.0,376.6 1330.0,372.9 1332.0,369.9 1334.0,367.5 1336.0,365.7 1338.0,364.6 1340.0,364.2 1342.0,364.5 1344.0,365.4 1346.0,367.1 1348.0,369.5 1350.0,372.5 1352.0,376.4 1354.0,380.8 1356.0,386.0 1358.0,391.7 1360.0,398.0 1362.0,404.8 1364.0,412.1 1366.0,419.8 1368.0,427.9 1370.0,436.3 1372.0,445.1 1374.0,454.1 1376.0,463.4 1378.0,472.8 1380.0,482.3 1382.0,492.0 1384.0,501.7 1386.0,511.5 1388.0,521.3 1390.0,531.1 1392.0,540.8 1394.0,550.6 1396.0,560.2 1398.0,569.7 1400.0,579.1 1402.0,588.3 1404.0,597.3 1406.0,606.2 1408.0,614.7 1410.0,623.1 1412.0,631.1 1414.0,638.9 1416.0,646.2 1418.0,653.3 1420.0,659.9 1422.0,666.2 1424.0,672.1 1426.0,677.6 1428.0,682.6 1430.0,687.3 1432.0,691.4 1434.0,695.1 1436.0,698.3 1438.0,701.1 1440.0,703.3 1442.0,705.0 1444.0,706.2 1446.0,706.8 1448.0,706.8 1450.0,706.3 1452.0,705.2 1454.0,703.5 1456.0,701.2 1458.0,698.3 1460.0,694.7 1462.0,690.6 1464.0,686.0 1466.0,681.0 1468.0,675.5 1470.0,669.8 1472.0,663.7 1474.0,657.4 1476.0,651.0 1478.0,644.5 1480.0,637.8 1482.0,631.1 1484.0,624.2 1486.0,617.1 1488.0,609.9 1490.0,602.5 1492.0,594.9 1494.0,587.1 1496.0,579.0 1498.0,570.7 1500.0,562.1 1502.0,553.2 1504.0,544.1 1506.0,534.9 1508.0,525.5 1510.0,516.1 1512.0,506.6 1514.0,497.2 1516.0,487.9 1518.0,478.7 1520.0,469.6 1522.0,460.8 1524.0,452.3 1526.0,444.1 1528.0,436.2 1530.0,428.8 1532.0,421.7 1534.0,415.1 1536.0,408.8 1538.0,402.9 1540.0,397.3 1542.0,392.2 1544.0,387.4 1546.0,383.0 1548.0,379.0 1550.0,375.3 1552.0,372.0 1554.0,369.1 1556.0,366.5 1558.0,364.2 1560.0,362.4 1562.0,360.9 1564.0,359.7 1566.0,358.9 1568.0,358.4 1570.0,358.2 1572.0,358.5 1574.0,359.0 1576.0,359.9 1578.0,361.1 1580.0,362.6 1582.0,364.5 1584.0,366.6 1586.0,369.1 1588.0,371.9 1590.0,375.0 1592.0,378.3 1594.0,381.8 1596.0,385.4 1598.0,389.2 1600.0,393.1 1602.0,397.1 1604.0,401.1 1606.0,405.1 1608.0,409.1 1610.0,413.1 1612.0,416.9 1614.0,420.7 1616.0,424.2 1618.0,427.6 1620.0,430.8 1622.0,433.7 1624.0,436.4 1626.0,438.8 1628.0,440.9 1630.0,442.7 1632.0,444.3 1634.0,445.6 1636.0,446.6 1638.0,447.3 1640.0,447.8 1642.0,448.0 1644.0,448.0 1646.0,447.6 1648.0,447.0 1650.0,446.2 1652.0,445.1 1654.0,443.7 1656.0,442.1 1658.0,440.2 1660.0,438.0 1662.0,435.6 1664.0,433.0 1666.0,430.0 1668.0,426.9 1670.0,423.5 1672.0,419.8 1674.0,415.9 1676.0,411.7 1678.0,407.3 1680.0,402.7 1682.0,398.0 1684.0,393.1 1686.0,388.2 1688.0,383.1 1690.0,378.1 1692.0,373.0 1694.0,368.0 1696.0,363.0 1698.0,358.1 1700.0,353.4 1702.0,348.8 1704.0,344.4 1706.0,340.2 1708.0,336.2 1710.0,332.6 1712.0,329.2 1713.0,327.7" fill="none" stroke="#d62728" stroke-width="4.2" stroke-linejoin="round"/>
<rect x="1366.3" y="20" width="339" height="325.7" rx="12" ry="12" fill="#fff"/>
</g>
<rect x="1390" y="74.8" width="104.2" height="4.4" fill="#1f77b4"/><text x="1505.2" y="95.3" style="font-size:59px">Specl</text>
<rect x="1390" y="145.2" width="104.2" height="4.4" fill="#ff7f0e"/><text x="1505.2" y="165.7" style="font-size:59px">Spec2</text>
<rect x="1390" y="215.5" width="104.2" height="4.4" fill="#2ca02c"/><text x="1505.2" y="236.0" style="font-size:59px">Spec3</text>
<rect x="1390" y="285.8" width="104.2" height="4.4" fill="#d62728"/><text x="1505.2" y="306.3" style="font-size:59px">Spec4</text>

<!-- spines -->
<rect x="311" y="27.2" width="1404.3" height="4.8" fill="#000"/>
<rect x="317.6" y="27.2" width="4.7" height="843.4" fill="#000"/>
<rect x="1710.8" y="27.2" width="4.6" height="841.6" fill="#000"/>
<line x1="317.6" y1="868.1" x2="1713" y2="852.3" stroke="#000" stroke-width="4.4"/>
<rect x="311" y="858.1" width="8" height="4.8" fill="#000"/><text transform="translate(299,879.9) scale(1,1.035)" text-anchor="end">0</text>
<rect x="311" y="691.9" width="8" height="4.8" fill="#000"/><text transform="translate(299,713.7) scale(1,1.035)" text-anchor="end">20</text>
<rect x="311" y="525.7" width="8" height="4.8" fill="#000"/><text transform="translate(299,547.5) scale(1,1.035)" text-anchor="end">40</text>
<rect x="311" y="359.6" width="8" height="4.8" fill="#000"/><text transform="translate(299,381.4) scale(1,1.035)" text-anchor="end">60</text>
<rect x="311" y="193.4" width="8" height="4.8" fill="#000"/><text transform="translate(299,215.2) scale(1,1.035)" text-anchor="end">80</text>
<rect x="311" y="27.2" width="8" height="4.8" fill="#000"/><text transform="translate(299,49.0) scale(1,1.035)" text-anchor="end">100</text>
<text transform="translate(321.0,926.8) scale(1,1.035)" text-anchor="middle">400</text>
<rect x="596.3" y="860" width="4.6" height="8.6" fill="#000"/><text transform="translate(599.6,926.8) scale(1,1.035)" text-anchor="middle">500</text>
<rect x="874.9" y="860" width="4.6" height="8.6" fill="#000"/><text transform="translate(878.2,926.8) scale(1,1.035)" text-anchor="middle">600</text>
<rect x="1153.5" y="860" width="4.6" height="8.6" fill="#000"/><text transform="translate(1156.8,926.8) scale(1,1.035)" text-anchor="middle">700</text>
<rect x="1432.1" y="860" width="4.6" height="8.6" fill="#000"/><text transform="translate(1435.4,926.8) scale(1,1.035)" text-anchor="middle">800</text>
<text transform="translate(1714.0,926.8) scale(1,1.035)" text-anchor="middle">900</text>

<text transform="translate(1018.3,989.5) scale(1,1.015)" text-anchor="middle">Wavelength (nm)</text>
<text transform="translate(134.2,445) rotate(-90) scale(1,1.02)" text-anchor="middle">Reflection spectrum value</text>
<text transform="translate(198.3,445.5) rotate(-90) scale(1,1.02)" text-anchor="middle">(%, normalized)</text>
</svg>
</body></html>
